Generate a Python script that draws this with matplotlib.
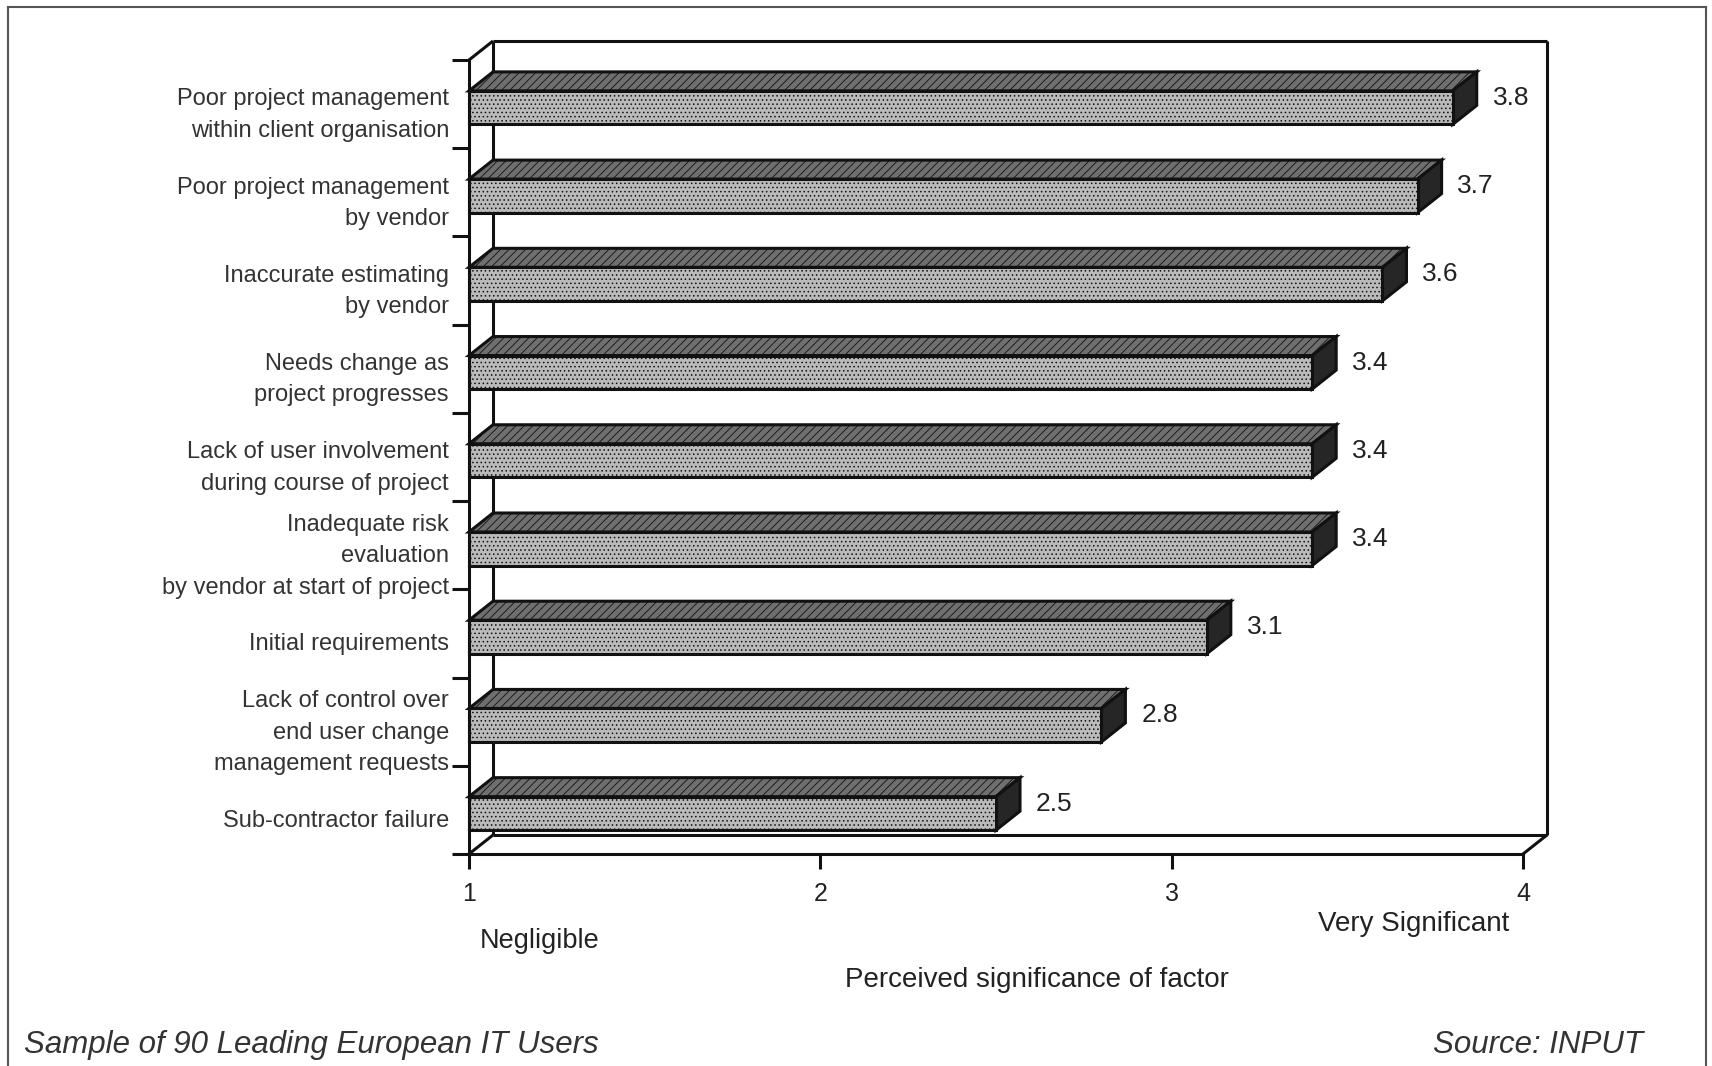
import matplotlib.pyplot as plt
from matplotlib.patches import Polygon, Rectangle
from matplotlib.lines import Line2D

plt.rcParams['font.family'] = ['Liberation Sans', 'DejaVu Sans']
plt.rcParams['hatch.color'] = '#8a8a8a'
plt.rcParams['hatch.linewidth'] = 0.6

# factors, top to bottom as in the chart
factors = [
    "Poor project management\nwithin client organisation",
    "Poor project management\nby vendor",
    "Inaccurate estimating\nby vendor",
    "Needs change as\nproject progresses",
    "Lack of user involvement\nduring course of project",
    "Inadequate risk\nevaluation\nby vendor at start of project",
    "Initial requirements",
    "Lack of control over\nend user change\nmanagement requests",
    "Sub-contractor failure",
]
scores = [3.8, 3.7, 3.6, 3.4, 3.4, 3.4, 3.1, 2.8, 2.5]
score_ticks = [1, 2, 3, 4]

W, H = 1712, 1066
fig = plt.figure(figsize=(W / 100, H / 100), dpi=100)
fig.patch.set_facecolor('white')

# front plane of the fake 3d box (pixels)
px_left, px_right = 469, 1523
px_top, px_bottom = 60, 854
ax = fig.add_axes([px_left / W, 1 - px_bottom / H,
                   (px_right - px_left) / W, (px_bottom - px_top) / H])

n = len(factors)
xmin, xmax = score_ticks[0], score_ticks[-1]
ax.set_xlim(xmin, xmax)
ax.set_ylim(0, n)

# depth offset, pixels -> data units
dx = 24 / (px_right - px_left) * (xmax - xmin)
dy = 19 / (px_bottom - px_top) * n

ink = '#111111'
txt = '#222222'
lw = 2.2

# back walls / floor
wall = dict(color=ink, lw=lw, clip_on=False, zorder=1, solid_capstyle='butt')
ax.plot([xmin + dx, xmax + dx], [n + dy, n + dy], **wall)
ax.plot([xmax + dx, xmax + dx], [dy, n + dy], **wall)
ax.plot([xmin + dx, xmin + dx], [dy, n + dy], **wall)
ax.plot([xmin + dx, xmax + dx], [dy, dy], **wall)
ax.plot([xmin, xmin + dx], [n, n + dy], **wall)
ax.plot([xmin, xmin + dx], [0, dy], **wall)
ax.plot([xmax, xmax + dx], [0, dy], **wall)

# bars
front_lo, front_hi = 0.27, 0.65
for k, v in enumerate(scores):
    i = n - 1 - k
    y0, y1 = i + front_lo, i + front_hi
    top = Polygon([(xmin, y1), (v, y1), (v + dx, y1 + dy), (xmin + dx, y1 + dy)],
                  closed=True, facecolor='#6f6f6f', edgecolor=ink, lw=lw,
                  hatch='////', clip_on=False, zorder=3)
    side = Polygon([(v, y0), (v + dx, y0 + dy), (v + dx, y1 + dy), (v, y1)],
                   closed=True, facecolor='#262626', edgecolor=ink, lw=lw,
                   clip_on=False, zorder=3)
    front = Rectangle((xmin, y0), v - xmin, y1 - y0, facecolor='#bababa',
                      edgecolor=ink, lw=lw, hatch='....', clip_on=False, zorder=4)
    ax.add_patch(top)
    ax.add_patch(side)
    ax.add_patch(front)
    ax.text(v + dx + 0.045, i + 0.57, f"{v:.1f}", fontsize=19, color=txt,
            ha='left', va='center', zorder=5)
    ax.text(-0.019, i + 0.375, factors[k], transform=ax.get_yaxis_transform(),
            ha='right', va='center', multialignment='right', fontsize=17,
            color='#333333', linespacing=1.55)

for s in ['top', 'right']:
    ax.spines[s].set_visible(False)
for s in ['left', 'bottom']:
    ax.spines[s].set_color(ink)
    ax.spines[s].set_linewidth(lw)
    ax.spines[s].set_zorder(6)

ax.set_yticks(range(n + 1))
ax.set_yticklabels([])
ax.tick_params(axis='y', length=12, width=lw, color=ink)
ax.set_xticks(score_ticks)
ax.set_xticklabels([str(t) for t in score_ticks])
ax.tick_params(axis='x', length=11, width=lw, color=ink, pad=9,
               labelsize=18, labelcolor=txt)
ax.set_facecolor('none')

fig.text(480 / W, 1 - 941 / H, "Negligible", fontsize=19.5, color=txt,
         ha='left', va='center')
fig.text(1509 / W, 1 - 924 / H, "Very Significant", fontsize=20, color=txt,
         ha='right', va='center')
fig.text(1037 / W, 1 - 980 / H, "Perceived significance of factor", fontsize=20,
         color=txt, ha='center', va='center')
fig.text(24 / W, 1 - 1045 / H, "Sample of 90 Leading European IT Users",
         fontsize=22.5, style='italic', color='#333333', ha='left', va='center')
fig.text(1643 / W, 1 - 1045 / H, "Source: INPUT", fontsize=22.5, style='italic',
         color='#333333', ha='right', va='center')

# outer frame (open at the bottom, as in the scan)
frame = dict(color='#555555', lw=1.5, transform=fig.transFigure)
fig.add_artist(Line2D([8 / W, 8 / W], [0, 1 - 7 / H], **frame))
fig.add_artist(Line2D([8 / W, 1706 / W], [1 - 7 / H, 1 - 7 / H], **frame))
fig.add_artist(Line2D([1706 / W, 1706 / W], [0, 1 - 7 / H], **frame))

fig.savefig('out.png', dpi=100)
